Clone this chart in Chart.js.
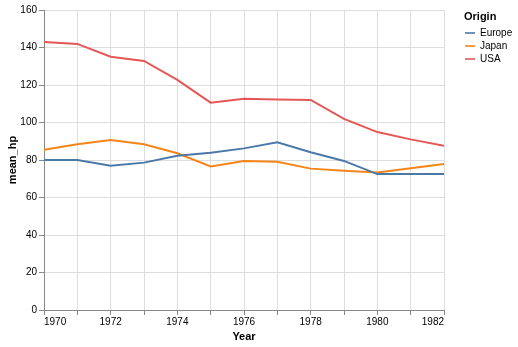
<!DOCTYPE html>
<html>
<head>
<meta charset="utf-8">
<script src="https://cdn.jsdelivr.net/npm/chart.js@4/dist/chart.umd.min.js"></script>
<style>
  html, body { margin: 0; padding: 0; background: #fff; }
  #wrap { position: relative; width: 518px; height: 347px; }
  #legend { position: absolute; left: 464px; top: 9px; font-family: "Liberation Sans", Arial, sans-serif; }
  #legend .title { font-size: 11px; font-weight: bold; color: #000; height: 17px; line-height: 14px; }
  #legend .item { font-size: 10px; color: #000; height: 13px; line-height: 13px; display: flex; align-items: center; }
  #legend .sym { width: 10px; height: 2px; margin: 0 5px 0 1px; opacity: 0.8; }
</style>
</head>
<body>
<div id="wrap">
  <canvas id="grafico" width="518" height="347"></canvas>
  <div id="legend"></div>
</div>
<script>
const years = [1970, 1971, 1972, 1973, 1974, 1975, 1976, 1977, 1978, 1979, 1980, 1981, 1982];
const origins = ['Europe', 'Japan', 'USA'];
const europeHp = [80.0, 80.0, 77.0, 78.6, 82.3, 83.9, 86.2, 89.4, 84.1, 79.5, 72.5, 72.5, 72.5];
const japanHp = [85.5, 88.4, 90.7, 88.4, 83.6, 76.6, 79.5, 79.1, 75.4, 74.3, 73.4, 75.6, 77.9];
const usaHp = [143.0, 141.9, 135.1, 132.8, 122.7, 110.6, 112.7, 112.3, 112.0, 101.9, 94.9, 91.0, 87.6];
const yTicks = [0, 20, 40, 60, 80, 100, 120, 140, 160];
const colors = ['#4c78a8', '#f58518', '#e45756'];

const series = [europeHp, japanHp, usaHp];
const fonte = "'Liberation Sans', Arial, sans-serif";

const datasets = origins.map((nome, i) => ({
    label: nome,
    data: years.map((ano, j) => ({ x: ano, y: series[i][j] })),
    borderColor: colors[i],
    backgroundColor: colors[i],
    borderWidth: 2,
    pointRadius: 0,
    tension: 0,
    fill: false
}));

const ctx = document.getElementById('grafico').getContext('2d');
const myChart = new Chart(ctx, {
    type: 'line',
    data: { datasets },
    options: {
        responsive: false,
        animation: false,
        layout: { padding: { top: 10, right: 74, left: 0, bottom: 0 } },
        scales: {
            x: {
                type: 'linear',
                min: 1970,
                max: 1982,
                afterFit: (scale) => { scale.height = 37; },
                afterBuildTicks: (scale) => { scale.ticks = years.map(v => ({ value: v })); },
                ticks: {
                    autoSkip: false,
                    maxRotation: 0,
                    align: 'inner', // primeiro e último rótulo rentes às bordas
                    padding: 1,
                    color: '#000',
                    font: { family: fonte, size: 10 },
                    callback: (v) => (v % 2 === 0 ? String(v) : '')
                },
                grid: { color: '#ddd', tickColor: '#888', tickLength: 5, lineWidth: 1 },
                border: { color: '#888', width: 1 },
                title: {
                    display: true,
                    text: 'Year',
                    color: '#000',
                    font: { family: fonte, size: 11, weight: 'bold' },
                    padding: { top: 0, bottom: 3 }
                }
            },
            y: {
                min: 0,
                max: 160,
                afterFit: (scale) => { scale.width = 44; },
                afterBuildTicks: (scale) => { scale.ticks = yTicks.map(v => ({ value: v })); },
                ticks: {
                    padding: 2,
                    color: '#000',
                    font: { family: fonte, size: 10 }
                },
                grid: { color: '#ddd', tickColor: '#888', tickLength: 5, lineWidth: 1 },
                border: { color: '#888', width: 1 },
                title: {
                    display: true,
                    text: 'mean_hp',
                    color: '#000',
                    font: { family: fonte, size: 11, weight: 'bold' },
                    padding: { top: 6, bottom: 0 }
                }
            }
        },
        plugins: {
            legend: { display: false },
            tooltip: { enabled: false }
        }
    }
});

// legenda em HTML, montada a partir das séries
const legenda = document.getElementById('legend');
legenda.innerHTML = '<div class="title">Origin</div>' + origins.map((nome, i) =>
    '<div class="item"><span class="sym" style="background:' + colors[i] + '"></span>' + nome + '</div>'
).join('');
</script>
</body>
</html>
